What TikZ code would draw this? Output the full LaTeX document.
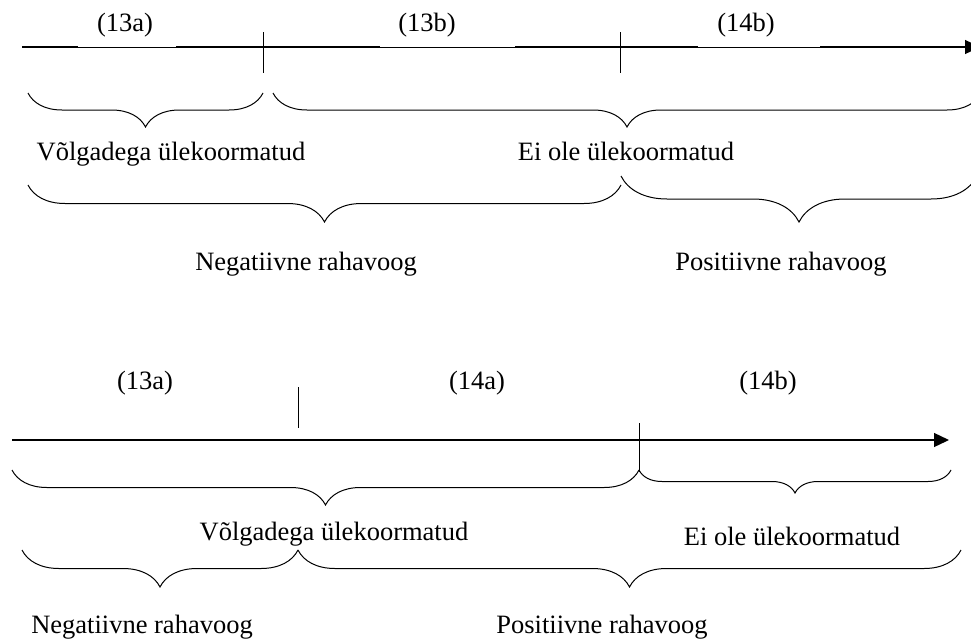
\documentclass[tikz,border=0pt]{standalone}
\usepackage{fontspec}
\setmainfont{Liberation Serif}
\usetikzlibrary{decorations.pathreplacing,arrows.meta}

\tikzset{
  axisline/.style={line width=1.3pt},
  thinline/.style={line width=0.6pt},
  tickline/.style={line width=1pt},
  brc/.style={line width=1pt, decorate, decoration={brace, mirror, amplitude=#1}},
  brc/.default=35,
  lbl/.style={anchor=base, inner sep=0pt},
  tip/.style={-{Triangle[length=15pt,width=14pt]}}
}

\begin{document}
\begin{tikzpicture}[x=1pt,y=-1pt]
\fontsize{26.5}{32}\selectfont
\useasboundingbox (0,0) rectangle (971,640);

% upper time axis
\coordinate (ua) at (22,47);
\coordinate (ub) at (980,47);
\coordinate (ut1) at (263,47);
\coordinate (ut2) at (620,47);
\draw[thinline] (ua) -- (965,47);
\draw[axisline] (ua) -- (78,47);
\draw[axisline] (176,47) -- (380,47);
\draw[axisline] (515,47) -- (698,47);
\draw[axisline, tip] (820,47) -- (ub);
\draw[tickline] ([yshift=15pt]ut1) -- ([yshift=-26pt]ut1);
\draw[tickline] ([yshift=15pt]ut2) -- ([yshift=-26pt]ut2);
\node[lbl] (u13a) at (125,31) {(13a)};
\node[lbl] (u13b) at (427,31) {(13b)};
\node[lbl] (u14b) at (746,31) {(14b)};

% upper braces
\coordinate (ub1) at (28,93);
\coordinate (ub2) at (263,93);
\coordinate (ub3) at (273,93);
\coordinate (ub4) at (981,93);
\draw[brc=34] (ub1) -- (ub2);
\draw[brc=34] (ub3) -- (ub4);
\node[lbl] (uvolg) at (171,160) {Võlgadega ülekoormatud};
\node[lbl] (uei) at (626,160) {Ei ole ülekoormatud};
\coordinate (ub5) at (28,185);
\coordinate (ub6) at (621,185);
\coordinate (ub7) at (621,176);
\coordinate (ub8) at (977,176);
\draw[brc=37] (ub5) -- (ub6);
\draw[brc=46] (ub7) -- (ub8);
\node[lbl] (uneg) at (306,270) {Negatiivne rahavoog};
\node[lbl] (upos) at (781,270) {Positiivne rahavoog};

% lower time axis
\coordinate (la) at (12,440);
\coordinate (lb) at (949,440);
\coordinate (lt1) at (298,440);
\coordinate (lt2) at (639,440);
\draw[axisline, tip] (la) -- (lb);
\draw[tickline] ([yshift=53pt]lt1) -- ([yshift=12pt]lt1);
\draw[tickline] ([yshift=17pt]lt2) -- ([yshift=-32pt]lt2);
\node[lbl] (l13a) at (145,389) {(13a)};
\node[lbl] (l14a) at (477,389) {(14a)};
\node[lbl] (l14b) at (768,389) {(14b)};

% lower braces
\coordinate (lb1) at (12,470);
\coordinate (lb2) at (639,472);
\coordinate (lb3) at (951,470);
\draw[brc=35] (lb1) -- (lb2 |- lb1);
\draw[brc=23] (lb2 |- lb1) -- (lb3);
\node[lbl] (lvolg) at (334,540) {Võlgadega ülekoormatud};
\node[lbl] (lei) at (792,545) {Ei ole ülekoormatud};
\coordinate (lb4) at (22,550);
\coordinate (lb5) at (298,550);
\coordinate (lb6) at (961,550);
\draw[brc=37] (lb4) -- (lb5);
\draw[brc=37] (lb5) -- (lb6);
\node[lbl] (lneg) at (142,633) {Negatiivne rahavoog};
\node[lbl] (lpos) at (602,633) {Positiivne rahavoog};
\end{tikzpicture}
\end{document}
